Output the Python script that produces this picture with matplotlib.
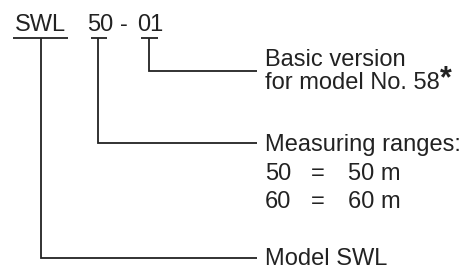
import matplotlib.pyplot as plt

# code parts shown at top
code_parts = ["SWL", "50", "-", "01"]
code_x = [15, 87, 120, 137]

# descriptions for each branch
basic_lines = ["Basic version", "for model No. 58"]
range_title = "Measuring ranges:"
range_codes = ["50", "60"]
range_values = ["50 m", "60 m"]
model_label = "Model SWL"

col = "#222222"
plt.rcParams['font.family'] = ['Liberation Sans', 'DejaVu Sans']
fs = 17

fig = plt.figure(figsize=(4.64, 2.69), dpi=100)
ax = fig.add_axes([0, 0, 1, 1])
ax.set_xlim(0, 464)
ax.set_ylim(269, 0)
ax.axis('off')

for t, x in zip(code_parts, code_x):
    ax.text(x, 31, t, fontsize=fs, color=col, va='baseline', ha='left')

lw = 1.3
# underlines + leader lines: (underline x0, x1, stem x, end y)
leaders = [(13, 68, 41, 258), (91, 107, 98, 143), (141, 158, 149, 71)]
for x0, x1, xs, ye in leaders:
    ax.plot([x0, x1], [38, 38], color=col, lw=lw, solid_capstyle='butt')
    ax.plot([xs, xs, 257], [38, ye, ye], color=col, lw=lw,
            solid_capstyle='butt', solid_joinstyle='miter')

tx = 265
ax.text(tx, 66, basic_lines[0], fontsize=fs, color=col, va='baseline')
ax.text(tx, 89, basic_lines[1], fontsize=fs, color=col, va='baseline')
# superscript asterisk
ax.text(440, 87, "*", fontsize=22, color=col, va='baseline', fontweight='bold')

ax.text(tx, 151, range_title, fontsize=fs, color=col, va='baseline')
for i, (c, v) in enumerate(zip(range_codes, range_values)):
    y = 180 + i * 28
    ax.text(tx, y, c, fontsize=fs, color=col, va='baseline')
    ax.text(311, y, "=", fontsize=fs, color=col, va='baseline')
    ax.text(348, y, v, fontsize=fs, color=col, va='baseline')

ax.text(tx, 265, model_label, fontsize=fs, color=col, va='baseline')

fig.savefig("out.png", dpi=100)
